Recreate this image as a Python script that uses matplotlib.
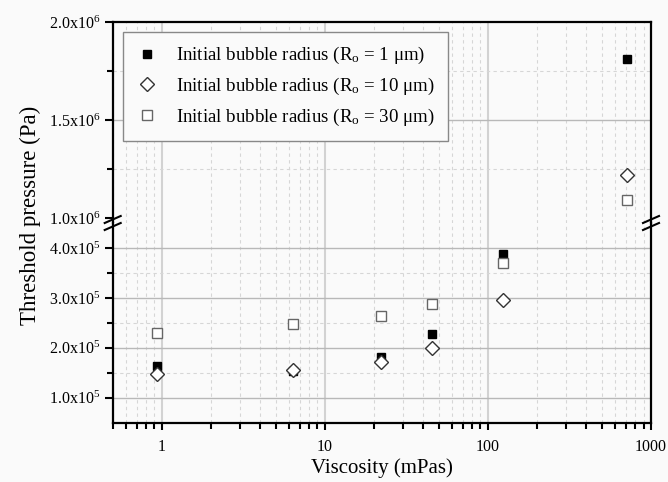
import numpy as np
import matplotlib
matplotlib.use("Agg")
import matplotlib.pyplot as plt
from matplotlib.lines import Line2D
from matplotlib.ticker import FixedLocator, FixedFormatter, NullFormatter

plt.rcParams["font.family"] = ["Liberation Serif", "DejaVu Serif"]
plt.rcParams["mathtext.fontset"] = "custom"
plt.rcParams["mathtext.rm"] = "Liberation Serif"
plt.rcParams["mathtext.it"] = "Liberation Serif:italic"

# === DATA ===
viscosity = [0.94, 6.36, 22.2, 45.7, 123.6, 713]
p_r1 = [1.63e5, 1.53e5, 1.82e5, 2.27e5, 3.88e5, 1.809e6]
p_r10 = [1.48e5, 1.56e5, 1.72e5, 2.00e5, 2.96e5, 1.222e6]
p_r30 = [2.29e5, 2.48e5, 2.64e5, 2.88e5, 3.70e5, 1.093e6]

series_labels = [
    r"Initial bubble radius (R$_{\mathrm{o}}$ = 1 $\mathrm{\mu}$m)",
    r"Initial bubble radius (R$_{\mathrm{o}}$ = 10 $\mathrm{\mu}$m)",
    r"Initial bubble radius (R$_{\mathrm{o}}$ = 30 $\mathrm{\mu}$m)",
]

x_ticks = [1, 10, 100, 1000]
x_ticklabels = ["1", "10", "100", "1000"]
low_ticks = [1e5, 2e5, 3e5, 4e5]
low_ticklabels = [r"1.0x10$^{5}$", r"2.0x10$^{5}$", r"3.0x10$^{5}$", r"4.0x10$^{5}$"]
low_minor = [1.5e5, 2.5e5, 3.5e5]
up_ticks = [1.0e6, 1.5e6, 2.0e6]
up_ticklabels = [r"1.0x10$^{6}$", r"1.5x10$^{6}$", r"2.0x10$^{6}$"]
up_minor = [1.25e6, 1.75e6]

# === STYLE ===
BG = "#fafafa"
MAJOR_GRID = "#b8b8b8"
MAJOR_XGRID = "#d2d2d2"
MINOR_GRID = "#d6d6d6"

W, H = 668, 482
fig = plt.figure(figsize=(W / 100, H / 100), dpi=100, facecolor=BG)

left_px, right_px = 112.7, 651.0
top_px, break_px, bottom_px = 22.0, 223.0, 422.7


def frac_box(y0_px, y1_px):
    return [left_px / W, 1 - y1_px / H, (right_px - left_px) / W, (y1_px - y0_px) / H]


ax_up = fig.add_axes(frac_box(top_px, break_px), facecolor=BG)
ax_low = fig.add_axes(frac_box(break_px, bottom_px), facecolor=BG)

minor_x = [m * 10.0 ** e for e in range(-1, 3) for m in range(2, 10) if 0.5 <= m * 10.0 ** e <= 1000]

for ax, ylim, major, minor in [
    (ax_up, (0.975e6, 2.0e6), up_ticks, up_minor),
    (ax_low, (0.5e5, 4.5e5), low_ticks, low_minor),
]:
    ax.set_xscale("log")
    ax.set_xlim(0.5, 1000)
    ax.set_ylim(*ylim)

    # grid lines drawn by hand
    for v in minor_x:
        ax.axvline(v, color=MINOR_GRID, lw=0.8, ls=(0, (3, 3)), zorder=0)
    for v in x_ticks[:-1]:
        ax.axvline(v, color=MAJOR_XGRID, lw=1.5, zorder=0)
    for v in minor:
        ax.axhline(v, color=MINOR_GRID, lw=0.8, ls=(0, (3, 3)), zorder=0)
    for v in major:
        if ylim[0] < v < ylim[1] and not (ax is ax_up and v == 1.0e6):
            ax.axhline(v, color=MAJOR_GRID, lw=1.0, zorder=0)

    ax.plot(viscosity, p_r1, ls="none", marker="s", ms=6, mfc="black", mec="black",
            label=series_labels[0], zorder=3)
    ax.plot(viscosity, p_r10, ls="none", marker="D", ms=7.5, mfc="white", mec="#333333",
            mew=1.0, label=series_labels[1], zorder=4)
    ax.plot(viscosity, p_r30, ls="none", marker="s", ms=6.5, mfc="white", mec="#666666",
            mew=1.0, label=series_labels[2], zorder=5)

    ax.yaxis.set_major_locator(FixedLocator(major))
    ax.yaxis.set_minor_locator(FixedLocator(minor))
    ax.tick_params(axis="y", which="major", direction="out", length=6, width=1.5,
                   labelsize=11.5, pad=3)
    ax.tick_params(axis="y", which="minor", direction="out", length=4, width=1.5)
    for s in ax.spines.values():
        s.set_linewidth(1.6)
        s.set_color("black")

ax_up.yaxis.set_major_formatter(FixedFormatter(up_ticklabels))
ax_low.yaxis.set_major_formatter(FixedFormatter(low_ticklabels))

ax_up.spines["bottom"].set_visible(False)
ax_low.spines["top"].set_visible(False)
ax_up.tick_params(axis="x", which="both", bottom=False, labelbottom=False)

ax_low.xaxis.set_major_locator(FixedLocator(x_ticks))
ax_low.xaxis.set_major_formatter(FixedFormatter(x_ticklabels))
ax_low.xaxis.set_minor_locator(FixedLocator(minor_x))
ax_low.xaxis.set_minor_formatter(NullFormatter())
ax_low.tick_params(axis="x", which="major", direction="out", length=5, width=1.5,
                   labelsize=11.5, pad=7)
ax_low.tick_params(axis="x", which="minor", direction="out", length=4, width=1.5)

leg = ax_up.legend(loc="upper left", bbox_to_anchor=(0.019, 0.95), borderaxespad=0,
                   fontsize=13.6, frameon=True, fancybox=False, handletextpad=0.9,
                   borderpad=0.7, labelspacing=0.5, handlelength=1.2)
leg.get_frame().set_edgecolor("#888888")
leg.get_frame().set_facecolor(BG)
leg.get_frame().set_alpha(1)
leg.get_frame().set_linewidth(1.0)

# axis break marks
for xb in (left_px, right_px):
    for dy in (-3.5, 3.5):
        yc = break_px + dy
        fig.add_artist(Line2D([(xb - 8) / W, (xb + 8) / W],
                              [1 - (yc + 3.5) / H, 1 - (yc - 3.5) / H],
                              color="black", lw=1.5))

fig.text(30 / W, 1 - 215 / H, "Threshold pressure (Pa)", rotation=90,
         ha="center", va="center", fontsize=16.5)
fig.text((left_px + right_px) / 2 / W, 1 - 468 / H, "Viscosity (mPas)",
         ha="center", va="center", fontsize=15)

fig.savefig("out.png", dpi=100, facecolor=BG)
